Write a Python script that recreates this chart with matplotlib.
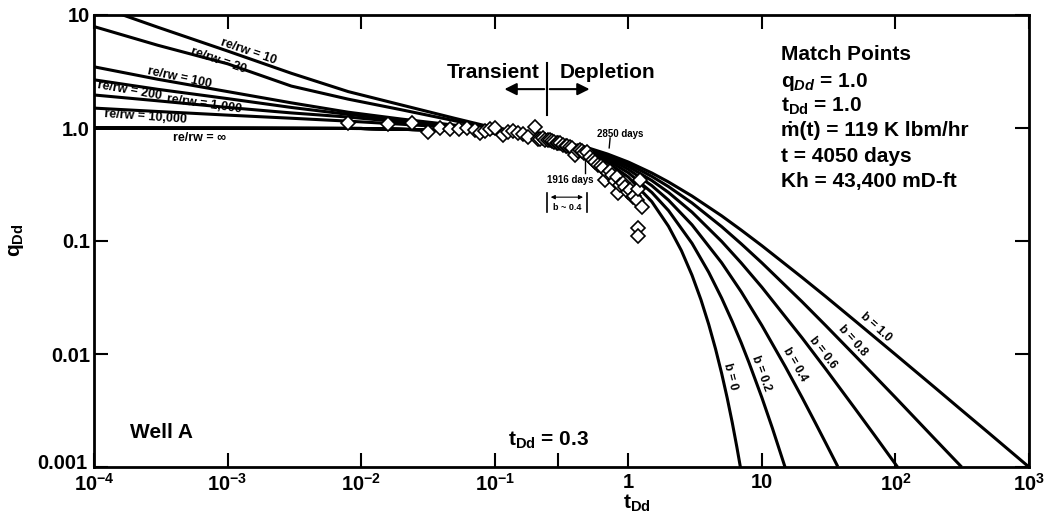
import numpy as np
import matplotlib.pyplot as plt
import matplotlib.transforms as mtransforms
from matplotlib.ticker import NullLocator

plt.rcParams['font.family'] = ['Liberation Sans', 'DejaVu Sans']
plt.rcParams['font.weight'] = 'bold'
plt.rcParams['mathtext.fontset'] = 'custom'
plt.rcParams['mathtext.rm'] = 'Liberation Sans:bold'
plt.rcParams['mathtext.bf'] = 'Liberation Sans:bold'
plt.rcParams['mathtext.it'] = 'Liberation Sans:bold:italic'
plt.rcParams['mathtext.default'] = 'bf'

# Depletion stems (Arps decline)
t_b0 = [1e-4, 0.01, 0.05, 0.1, 0.2, 0.3, 0.5, 0.7, 1, 1.5, 2, 2.5, 3, 3.5, 4, 4.5, 5, 5.5, 6, 6.5, 7]
q_b0 = [1.0, 0.99, 0.951, 0.905, 0.819, 0.741, 0.607, 0.497, 0.368, 0.223, 0.135, 0.0821, 0.0498,
        0.0302, 0.0183, 0.0111, 0.00674, 0.00409, 0.00248, 0.0015, 0.000912]
t_b02 = [1e-4, 0.01, 0.05, 0.1, 0.2, 0.3, 0.5, 0.7, 1, 1.5, 2, 3, 4, 5, 6, 7, 8, 10, 12, 15]
q_b02 = [1.0, 0.99, 0.951, 0.906, 0.822, 0.747, 0.621, 0.519, 0.402, 0.269, 0.186, 0.0954, 0.0529,
         0.03125, 0.0194, 0.0126, 0.00842, 0.00412, 0.0022, 0.000977]
t_b04 = [1e-4, 0.01, 0.05, 0.1, 0.2, 0.3, 0.5, 0.7, 1, 1.5, 2, 3, 5, 7, 10, 15, 20, 25, 30, 37]
q_b04 = [1.0, 0.99, 0.952, 0.907, 0.825, 0.753, 0.634, 0.54, 0.431, 0.309, 0.23, 0.139, 0.0642,
         0.0356, 0.0179, 0.00771, 0.00412, 0.00249, 0.00164, 0.00101]
t_b06 = [1e-4, 0.01, 0.05, 0.1, 0.2, 0.3, 0.5, 0.7, 1, 1.5, 2, 3, 5, 7, 10, 20, 30, 50, 70, 104]
q_b06 = [1.0, 0.99, 0.952, 0.907, 0.828, 0.759, 0.646, 0.557, 0.457, 0.343, 0.269, 0.18, 0.0992,
         0.064, 0.039, 0.0139, 0.00739, 0.00327, 0.0019, 0.000995]
t_b08 = [1e-4, 0.01, 0.05, 0.1, 0.2, 0.3, 0.5, 0.7, 1, 1.5, 2, 3, 5, 7, 10, 20, 30, 50, 100, 200, 313]
q_b08 = [1.0, 0.99, 0.952, 0.908, 0.831, 0.764, 0.657, 0.574, 0.48, 0.373, 0.303, 0.217, 0.134,
         0.0945, 0.0641, 0.029, 0.0179, 0.00964, 0.00412, 0.00174, 0.001]
t_b10 = [1e-4, 0.01, 0.05, 0.1, 0.2, 0.3, 0.5, 0.7, 1, 1.5, 2, 3, 5, 7, 10, 20, 30, 50, 100, 200,
         300, 500, 1000]
q_b10 = [1.0, 0.99, 0.952, 0.909, 0.833, 0.769, 0.667, 0.588, 0.5, 0.4, 0.333, 0.25, 0.167, 0.125,
         0.0909, 0.0476, 0.0323, 0.0196, 0.0099, 0.00498, 0.00332, 0.002, 0.000999]

# Transient stems (re/rw)
t_tr = [1e-4, 3e-4, 1e-3, 3e-3, 8e-3, 2e-2, 5e-2, 0.1, 0.2, 0.3]
q_re10 = [12.3, 7.8, 4.8, 3.05, 2.1, 1.6, 1.22, 1.0, 0.84, 0.76]
q_re20 = [7.9, 5.4, 3.7, 2.35, 1.8, 1.45, 1.16, 0.98, 0.84, 0.76]
q_re100 = [3.48, 2.7, 2.1, 1.67, 1.38, 1.2, 1.06, 0.95, 0.83, 0.76]
q_re200 = [2.67, 2.2, 1.82, 1.52, 1.32, 1.17, 1.05, 0.95, 0.83, 0.76]
q_re1000 = [1.96, 1.74, 1.52, 1.36, 1.25, 1.13, 1.03, 0.94, 0.83, 0.76]
q_re10000 = [1.5, 1.4, 1.3, 1.22, 1.15, 1.08, 1.01, 0.93, 0.83, 0.76]

# Well A production data
t_well = [0.008, 0.0159, 0.024, 0.0316, 0.0389, 0.0463, 0.054, 0.0619, 0.0711, 0.0774, 0.0845,
          0.092, 0.1, 0.115, 0.126, 0.137, 0.149, 0.163, 0.177, 0.2, 0.21, 0.22, 0.23, 0.24, 0.25,
          0.259, 0.27, 0.28, 0.292, 0.3, 0.31, 0.324, 0.34, 0.35, 0.366, 0.38, 0.398, 0.42, 0.435,
          0.45, 0.47, 0.49, 0.52, 0.543, 0.56, 0.592, 0.62, 0.65, 0.668, 0.7, 0.728, 0.76, 0.79,
          0.822, 0.836, 0.86, 0.912, 0.95, 1.0, 1.03, 1.08, 1.1, 1.16, 1.18, 1.22, 1.26, 1.18, 1.18]
q_well = [1.1, 1.09, 1.1, 0.92, 1.0, 0.98, 0.98, 1.0, 0.96, 0.9, 0.94,
          0.98, 1.0, 0.87, 0.92, 0.94, 0.9, 0.885, 0.83, 1.02, 0.8, 0.8, 0.815, 0.79, 0.78,
          0.78, 0.77, 0.75, 0.74, 0.74, 0.73, 0.71, 0.7, 0.69, 0.68, 0.66, 0.58, 0.63, 0.64,
          0.62, 0.6, 0.61, 0.55, 0.52, 0.5, 0.47, 0.46, 0.44, 0.35, 0.4, 0.42, 0.38, 0.34,
          0.37, 0.265, 0.31, 0.325, 0.3, 0.27, 0.28, 0.245, 0.25, 0.23, 0.29, 0.35, 0.2, 0.13, 0.11]

x_ticks = [1e-4, 1e-3, 1e-2, 1e-1, 1, 10, 100, 1000]
x_labels = ['$10^{-4}$', '$10^{-3}$', '$10^{-2}$', '$10^{-1}$', '1', '10', '$10^{2}$', '$10^{3}$']
y_ticks = [1e-3, 1e-2, 1e-1, 1, 10]
y_labels = ['0.001', '0.01', '0.1', '1.0', '10']

fig = plt.figure(figsize=(10.48, 5.16), dpi=100)
fig.patch.set_facecolor('white')
ax = fig.add_axes([94 / 1048, 1 - 467 / 516, 935 / 1048, 452 / 516])

lw = 2.2
for t, q in [(t_b0, q_b0), (t_b02, q_b02), (t_b04, q_b04), (t_b06, q_b06), (t_b08, q_b08), (t_b10, q_b10)]:
    ax.plot(t, q, color='black', lw=lw, solid_capstyle='butt')
for q in [q_re10, q_re20, q_re100, q_re200, q_re1000, q_re10000]:
    ax.plot(t_tr, q, color='black', lw=lw)

ax.plot(t_well, q_well, linestyle='none', marker='D', markersize=7.5, markerfacecolor='white',
        markeredgecolor='black', markeredgewidth=1.2, zorder=5)

ax.set_xscale('log')
ax.set_yscale('log')
ax.set_xlim(1e-4, 1e3)
ax.set_ylim(1e-3, 10)
ax.set_xticks(x_ticks)
ax.set_xticklabels(x_labels)
ax.set_yticks(y_ticks)
ax.set_yticklabels(y_labels)
ax.xaxis.set_minor_locator(NullLocator())
ax.yaxis.set_minor_locator(NullLocator())
ax.set_xticks([0.3], minor=True)
ax.tick_params(which='major', direction='in', length=10, width=1.5, top=True, right=True,
               labelsize=14.5)
ax.tick_params(axis='x', which='major', pad=4)
ax.tick_params(axis='y', which='major', pad=3)
ax.tick_params(which='minor', direction='in', length=10, width=1.5, top=False, bottom=True)
for s in ax.spines.values():
    s.set_linewidth(2)

# lift the corner label "0.001" a touch so it clears "10^-4"
lab = ax.yaxis.get_major_ticks()[0].label1
lab.set_transform(lab.get_transform() + mtransforms.ScaledTranslation(-2 / 72, 4 / 72, fig.dpi_scale_trans))

fig.text(17 / 1048, 1 - 240 / 516, '$q_{Dd}$', rotation=90, ha='center', va='center', fontsize=15)
fig.text(637 / 1048, 1 - 503 / 516, '$t_{Dd}$', ha='center', va='center', fontsize=15)

# re/rw labels
re_labels = [('re/rw = 10', 0.165, 0.918, -19), ('re/rw = 20', 0.133, 0.898, -19),
             ('re/rw = 100', 0.091, 0.861, -12), ('re/rw = 200', 0.0385, 0.832, -10),
             ('re/rw = 1,000', 0.118, 0.803, -8), ('re/rw = 10,000', 0.0556, 0.774, -4),
             ('re/rw = \u221e', 0.113, 0.727, 0)]
for txt, fx, fy, rot in re_labels:
    ax.text(fx, fy, txt, transform=ax.transAxes, rotation=rot, ha='center', va='center',
            fontsize=9, rotation_mode='anchor')

b_labels = [('b = 1.0', 0.836, 0.310, -42), ('b = 0.8', 0.811, 0.279, -48),
            ('b = 0.6', 0.779, 0.252, -52), ('b = 0.4', 0.750, 0.226, -60),
            ('b = 0.2', 0.714, 0.208, -70), ('b = 0', 0.680, 0.201, -76)]
for txt, fx, fy, rot in b_labels:
    ax.text(fx, fy, txt, transform=ax.transAxes, rotation=rot, ha='center', va='center',
            fontsize=8.5, rotation_mode='anchor')

# Transient | Depletion
ax.text(0.4845 - 0.008, 0.872, 'Transient', transform=ax.transAxes, ha='right', va='center', fontsize=15)
ax.text(0.4845 + 0.013, 0.872, 'Depletion', transform=ax.transAxes, ha='left', va='center', fontsize=15)
ax.plot([0.4845, 0.4845], [0.779, 0.894], transform=ax.transAxes, color='black', lw=1.5)
ax.annotate('', xy=(0.436, 0.836), xytext=(0.4845, 0.836), xycoords='axes fraction',
            arrowprops=dict(arrowstyle='-|>', color='black', lw=1.5, mutation_scale=18))
ax.annotate('', xy=(0.533, 0.836), xytext=(0.4845, 0.836), xycoords='axes fraction',
            arrowprops=dict(arrowstyle='-|>', color='black', lw=1.5, mutation_scale=18))

# small annotations
ax.text(0.563, 0.737, '2850 days', transform=ax.transAxes, ha='center', va='center', fontsize=7)
ax.plot([0.552, 0.551], [0.728, 0.706], transform=ax.transAxes, color='black', lw=1)
ax.text(0.509, 0.635, '1916 days', transform=ax.transAxes, ha='center', va='center', fontsize=7)
ax.plot([0.525, 0.525], [0.679, 0.650], transform=ax.transAxes, color='black', lw=1)
ax.plot([0.4845, 0.4845], [0.606, 0.564], transform=ax.transAxes, color='black', lw=1.2)
ax.plot([0.527, 0.527], [0.606, 0.564], transform=ax.transAxes, color='black', lw=1.2)
ax.annotate('', xy=(0.4855, 0.597), xytext=(0.526, 0.597), xycoords='axes fraction',
            arrowprops=dict(arrowstyle='<|-|>', color='black', lw=0.8, mutation_scale=6))
ax.text(0.506, 0.575, 'b ~ 0.4', transform=ax.transAxes, ha='center', va='center', fontsize=6.5)

# Match points block
mp_lines = ['Match Points', '$q_{\\mathit{Dd}}$ = 1.0', '$t_{Dd}$ = 1.0', '\u1e41(t) = 119 K lbm/hr',
            't = 4050 days', 'Kh = 43,400 mD-ft']
mp_y = [0.912, 0.852, 0.797, 0.744, 0.686, 0.631]
for txt, fy in zip(mp_lines, mp_y):
    ax.text(0.735, fy, txt, transform=ax.transAxes, ha='left', va='center', fontsize=15)

ax.text(0.0385, 0.077, 'Well A', transform=ax.transAxes, ha='left', va='center', fontsize=15)
ax.text(0.486, 0.060, '$t_{Dd}$ = 0.3', transform=ax.transAxes, ha='center', va='center', fontsize=15)

fig.savefig('out.png', dpi=100)
